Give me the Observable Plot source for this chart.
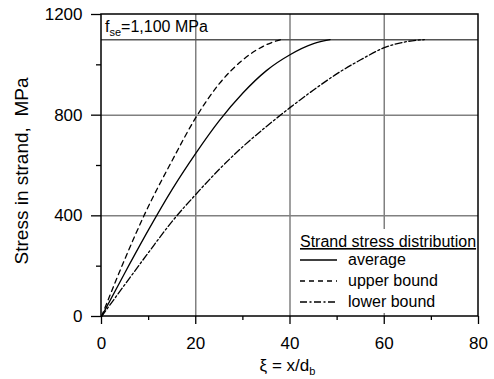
<!DOCTYPE html>
<html>
<head>
<meta charset="utf-8">
<script src="https://cdn.jsdelivr.net/npm/d3@7"></script>
<script src="https://cdn.jsdelivr.net/npm/@observablehq/plot@0.6"></script>
<style>
  html, body { margin: 0; padding: 0; background: white; }
</style>
</head>
<body>
<div id="chart"></div>
<script>
// Data
const avgXi    = [0, 5, 10, 15, 20, 25, 30, 35, 40, 45, 48.5];
const avgStress = [0, 175, 345, 505, 648, 778, 888, 977, 1040, 1084, 1100];
const upXi     = [0, 5, 9, 15, 20, 25, 30, 35, 38];
const upStress = [0, 230, 400, 620, 790, 925, 1020, 1080, 1100];
const loXi     = [0, 5, 10, 15, 20, 25, 30, 35, 40, 45, 50, 55, 60, 65, 68.5];
const loStress = [0, 128, 255, 378, 485, 585, 675, 755, 830, 900, 965, 1020, 1068, 1093, 1100];
const fse = 1100;
const xMajor = [0, 20, 40, 60, 80];
const xMinor = [10, 30, 50, 70];
const yMajor = [0, 400, 800, 1200];
const yMinor = [200, 600, 1000];
const xGrid = [20, 40, 60];
const yGrid = [400, 800];
const seriesNames = ["average", "upper bound", "lower bound"];
const dashes = [null, "5,4", "7,2.5,2,2.5"];

const avg = avgXi.map((x, i) => ({x, y: avgStress[i]}));
const up = upXi.map((x, i) => ({x, y: upStress[i]}));
const lo = loXi.map((x, i) => ({x, y: loStress[i]}));

const font = "'Liberation Sans', Arial, sans-serif";

const plot = Plot.plot({
  width: 494,
  height: 379,
  marginLeft: 101,
  marginRight: 16,
  marginTop: 14,
  marginBottom: 63,
  style: {fontFamily: font, fontSize: "17px", background: "white", color: "black", overflow: "visible"},
  x: {domain: [0, 80]},
  y: {domain: [0, 1200]},
  marks: [
    Plot.ruleX(xGrid, {stroke: "#808080", strokeWidth: 1.5}),
    Plot.ruleY(yGrid, {stroke: "#808080", strokeWidth: 1.5}),
    Plot.ruleY([fse], {stroke: "#555", strokeWidth: 1.5}),
    Plot.line(avg, {x: "x", y: "y", stroke: "black", strokeWidth: 1.3, curve: "monotone-x"}),
    Plot.line(up, {x: "x", y: "y", stroke: "black", strokeWidth: 1.3, strokeDasharray: dashes[1], curve: "monotone-x"}),
    Plot.line(lo, {x: "x", y: "y", stroke: "black", strokeWidth: 1.3, strokeDasharray: dashes[2], curve: "monotone-x"}),
    Plot.axisY(yMajor, {tickSize: 10, tickPadding: 9, label: null, strokeWidth: 1.3, tickFormat: d => String(d)}),
    Plot.axisY(yMinor, {tickSize: 5, tickFormat: () => "", label: null, strokeWidth: 1.3}),
    Plot.axisX(xMajor, {tickSize: 8, tickPadding: 12, label: null, strokeWidth: 1.3, tickFormat: d => String(d)}),
    Plot.axisX(xMinor, {tickSize: 4, tickFormat: () => "", label: null, strokeWidth: 1.3})
  ]
});

document.getElementById("chart").appendChild(plot);

const svg = d3.select(plot);
const sx = plot.scale("x");
const sy = plot.scale("y");
const x0 = sx.apply(0), x1 = sx.apply(80);
const y0 = sy.apply(0), y1 = sy.apply(1200);

// f_se label
const ft = svg.append("text")
  .attr("x", x0 + 4)
  .attr("y", (sy.apply(fse) + y1) / 2 + 5)
  .attr("text-anchor", "start")
  .attr("font-family", font).attr("font-size", 16).attr("fill", "black");
ft.append("tspan").text("f");
ft.append("tspan").attr("font-size", 11).attr("dy", 4).text("se");
ft.append("tspan").attr("dy", -4).text("=1,100 MPa");

// x axis title
const xt = svg.append("text")
  .attr("x", (x0 + x1) / 2 - 2)
  .attr("y", y0 + 55)
  .attr("text-anchor", "middle")
  .attr("font-family", font).attr("font-size", 17).attr("fill", "black");
xt.append("tspan").text("ξ = x/d");
xt.append("tspan").attr("font-size", 11).attr("dy", 4).text("b");

// y axis title
svg.append("text")
  .attr("transform", `translate(${x0 - 73},${(y0 + y1) / 2 + 6}) rotate(-90)`)
  .attr("text-anchor", "middle")
  .attr("font-family", font).attr("font-size", 19).attr("fill", "black")
  .style("white-space", "pre")
  .text("Stress in strand,  MPa");

// legend
const lx = x0 + 199;
const lg = svg.append("g").attr("font-family", font).attr("font-size", 16).attr("fill", "black")
  .attr("text-anchor", "start");
lg.append("rect").attr("x", lx - 4).attr("y", y0 - 87).attr("width", x1 - lx + 4).attr("height", 84)
  .attr("fill", "white");
lg.append("text").attr("x", lx).attr("y", y0 - 69).text("Strand stress distribution")
  .attr("text-decoration", "underline");
seriesNames.forEach((name, i) => {
  const yy = y0 - 56 + i * 21;
  const l = lg.append("line").attr("x1", lx).attr("x2", lx + 37).attr("y1", yy).attr("y2", yy)
    .attr("stroke", "black").attr("stroke-width", 1.3);
  if (dashes[i]) l.attr("stroke-dasharray", dashes[i]);
  lg.append("text").attr("x", lx + 48).attr("y", yy + 5).text(name);
});

// frame on top
svg.append("rect").attr("x", x0).attr("y", y1).attr("width", x1 - x0).attr("height", y0 - y1)
  .attr("fill", "none").attr("stroke", "black").attr("stroke-width", 1.5);
</script>
</body>
</html>
